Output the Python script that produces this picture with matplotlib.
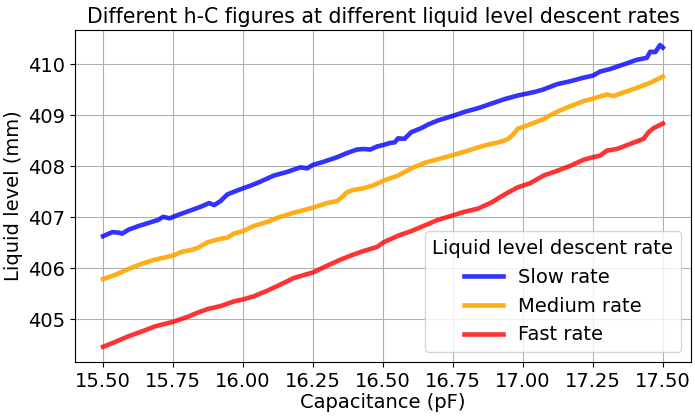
import numpy as np
import matplotlib.pyplot as plt

# values (capacitance pF, liquid level mm)
slow_c = [15.500, 15.533, 15.556, 15.568, 15.592, 15.627, 15.662, 15.697, 15.715, 15.738,
          15.750, 15.779, 15.815, 15.850, 15.879, 15.897, 15.920, 15.944, 15.967, 16.000,
          16.026, 16.062, 16.110, 16.157, 16.205, 16.229, 16.250, 16.288, 16.336, 16.371,
          16.407, 16.431, 16.455, 16.479, 16.502, 16.526, 16.542, 16.554, 16.577, 16.601,
          16.637, 16.661, 16.696, 16.750, 16.792, 16.839, 16.887, 16.935, 16.982, 17.042,
          17.074, 17.121, 17.169, 17.217, 17.250, 17.276, 17.312, 17.360, 17.407, 17.443,
          17.455, 17.473, 17.490, 17.500]
slow_h = [406.63, 406.71, 406.70, 406.68, 406.76, 406.83, 406.89, 406.95, 407.01, 406.98,
          407.01, 407.07, 407.14, 407.21, 407.28, 407.24, 407.32, 407.45, 407.50, 407.57,
          407.62, 407.70, 407.82, 407.89, 407.98, 407.96, 408.03, 408.09, 408.18, 408.26,
          408.33, 408.34, 408.33, 408.39, 408.42, 408.46, 408.47, 408.55, 408.54, 408.67,
          408.75, 408.82, 408.90, 408.99, 409.07, 409.14, 409.23, 409.32, 409.39, 409.46,
          409.51, 409.61, 409.67, 409.74, 409.78, 409.86, 409.91, 410.00, 410.09, 410.13,
          410.25, 410.24, 410.38, 410.33]

medium_c = [15.500, 15.545, 15.592, 15.638, 15.685, 15.750, 15.779, 15.815, 15.838, 15.873,
            15.920, 15.944, 15.967, 16.000, 16.038, 16.086, 16.133, 16.181, 16.250, 16.300,
            16.336, 16.348, 16.371, 16.395, 16.431, 16.467, 16.502, 16.554, 16.601, 16.649,
            16.696, 16.750, 16.804, 16.863, 16.911, 16.946, 16.964, 16.982, 16.998, 17.042,
            17.074, 17.121, 17.169, 17.217, 17.250, 17.300, 17.324, 17.360, 17.407, 17.455,
            17.500]
medium_h = [405.79, 405.875, 405.99, 406.09, 406.17, 406.25, 406.32, 406.36, 406.40, 406.51,
            406.58, 406.60, 406.68, 406.73, 406.83, 406.91, 407.01, 407.09, 407.19, 407.28,
            407.32, 407.37, 407.49, 407.54, 407.57, 407.63, 407.72, 407.82, 407.96, 408.07,
            408.14, 408.22, 408.31, 408.41, 408.47, 408.53, 408.62, 408.74, 408.77, 408.86,
            408.93, 409.07, 409.18, 409.28, 409.33, 409.41, 409.38, 409.45, 409.54, 409.64,
            409.76]

fast_c = [15.500, 15.545, 15.592, 15.638, 15.685, 15.750, 15.803, 15.838, 15.873, 15.920,
          15.967, 16.000, 16.038, 16.086, 16.133, 16.181, 16.250, 16.300, 16.348, 16.395,
          16.431, 16.479, 16.502, 16.526, 16.554, 16.601, 16.649, 16.696, 16.750, 16.792,
          16.839, 16.887, 16.935, 16.982, 17.026, 17.074, 17.121, 17.169, 17.217, 17.250,
          17.276, 17.300, 17.336, 17.383, 17.431, 17.449, 17.467, 17.500]
fast_h = [404.46, 404.56, 404.67, 404.76, 404.86, 404.95, 405.05, 405.13, 405.20, 405.26,
          405.35, 405.39, 405.45, 405.56, 405.68, 405.81, 405.92, 406.05, 406.17, 406.27,
          406.34, 406.42, 406.51, 406.57, 406.64, 406.73, 406.84, 406.95, 407.04, 407.11,
          407.17, 407.29, 407.45, 407.59, 407.67, 407.82, 407.91, 408.01, 408.13, 408.18,
          408.21, 408.31, 408.34, 408.44, 408.54, 408.67, 408.75, 408.84]

fig = plt.figure(figsize=(6.95, 4.16), dpi=100)
ax = fig.add_axes([0.108, 0.130, 0.886, 0.798])

ax.plot(slow_c, slow_h, color='blue', alpha=0.8, lw=3.3, label='Slow rate')
ax.plot(medium_c, medium_h, color='orange', alpha=0.9, lw=3.3, label='Medium rate')
ax.plot(fast_c, fast_h, color='red', alpha=0.8, lw=3.3, label='Fast rate')

ax.set_xticks(np.arange(15.5, 17.51, 0.25))
ax.set_xticklabels([f'{v:.2f}' for v in np.arange(15.5, 17.51, 0.25)])
ax.tick_params(labelsize=14)
ax.set_xlabel('Capacitance (pF)', fontsize=14, labelpad=2)
ax.set_ylabel('Liquid level (mm)', fontsize=14)
ax.set_title('Different h-C figures at different liquid level descent rates', fontsize=14.8, pad=5)
ax.grid(True)
ax.legend(title='Liquid level descent rate', fontsize=14, title_fontsize=14, loc='lower right')

fig.savefig('out.png', dpi=100)
